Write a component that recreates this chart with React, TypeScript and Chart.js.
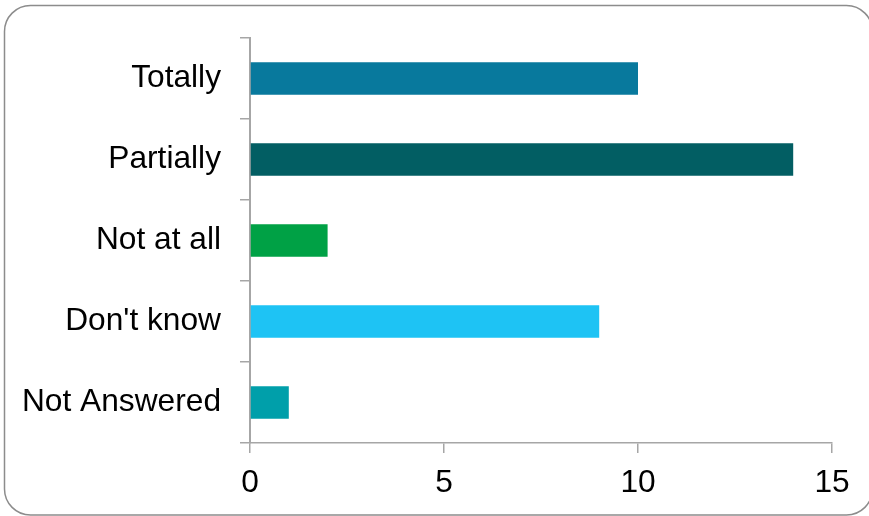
import React, { useEffect, useRef } from "react";
import { Chart, registerables } from "chart.js";

Chart.register(...registerables);

const categories = ["Totally", "Partially", "Not at all", "Don't know", "Not Answered"];
const values = [10, 14, 2, 9, 1];
const barColors = ["#08799d", "#025e63", "#00a145", "#1ec3f4", "#009faa"];
const xTicks = [0, 5, 10, 15];

const frame = {
  id: "frame",
  beforeDraw(chart: any) {
    const ctx = chart.ctx;
    ctx.save();
    ctx.fillStyle = "#ffffff";
    ctx.fillRect(0, 0, chart.width, chart.height);
    const x = 4.5, y = 5.5, w = 868, h = 509.5, r = 26;
    ctx.beginPath();
    ctx.moveTo(x + r, y);
    ctx.lineTo(x + w - r, y);
    ctx.arcTo(x + w, y, x + w, y + r, r);
    ctx.lineTo(x + w, y + h - r);
    ctx.arcTo(x + w, y + h, x + w - r, y + h, r);
    ctx.lineTo(x + r, y + h);
    ctx.arcTo(x, y + h, x, y + h - r, r);
    ctx.lineTo(x, y + r);
    ctx.arcTo(x, y, x + r, y, r);
    ctx.closePath();
    ctx.strokeStyle = "#8c8c8c";
    ctx.lineWidth = 1.5;
    ctx.stroke();
    ctx.restore();
  },
};

export default function App() {
  const ref = useRef<HTMLCanvasElement | null>(null);
  useEffect(() => {
    document.body.style.margin = "0";
    const chart = new Chart(ref.current!, {
      type: "bar",
      data: {
        labels: categories,
        datasets: [
          {
            data: values,
            backgroundColor: barColors,
            borderWidth: 0,
            categoryPercentage: 1,
            barPercentage: 0.4,
          },
        ],
      },
      options: {
        indexAxis: "y",
        animation: false,
        responsive: false,
        maintainAspectRatio: false,
        layout: { padding: { left: 0, right: 37, top: 33, bottom: 0 } },
        plugins: { legend: { display: false }, tooltip: { enabled: false } },
        scales: {
          x: {
            type: "linear",
            min: 0,
            max: 15,
            afterBuildTicks: (s: any) => {
              s.ticks = xTicks.map((v) => ({ value: v }));
            },
            afterFit: (s: any) => {
              s.height = 73;
            },
            grid: {
              drawOnChartArea: false,
              drawTicks: true,
              tickLength: 10,
              color: "#a6a6a6",
              lineWidth: 1.5,
            },
            border: { display: true, color: "#a6a6a6", width: 1.5 },
            ticks: {
              padding: 11,
              color: "#000000",
              font: { family: "Liberation Sans, Arial, sans-serif", size: 31.7 },
            },
          },
          y: {
            type: "category",
            afterFit: (s: any) => {
              s.width = 250;
            },
            grid: {
              offset: true,
              drawOnChartArea: false,
              drawTicks: true,
              tickLength: 10,
              color: "#a6a6a6",
              lineWidth: 1.5,
            },
            border: { display: true, color: "#a6a6a6", width: 2 },
            ticks: {
              padding: 19,
              color: "#000000",
              font: { family: "Liberation Sans, Arial, sans-serif", size: 31.7 },
            },
          },
        },
      },
      plugins: [frame],
    });
    return () => chart.destroy();
  }, []);
  return (
    <div style={{ position: "fixed", left: 0, top: 0, width: 869, height: 516 }}>
      <canvas ref={ref} width={869} height={516} style={{ width: 869, height: 516 }} />
    </div>
  );
}
